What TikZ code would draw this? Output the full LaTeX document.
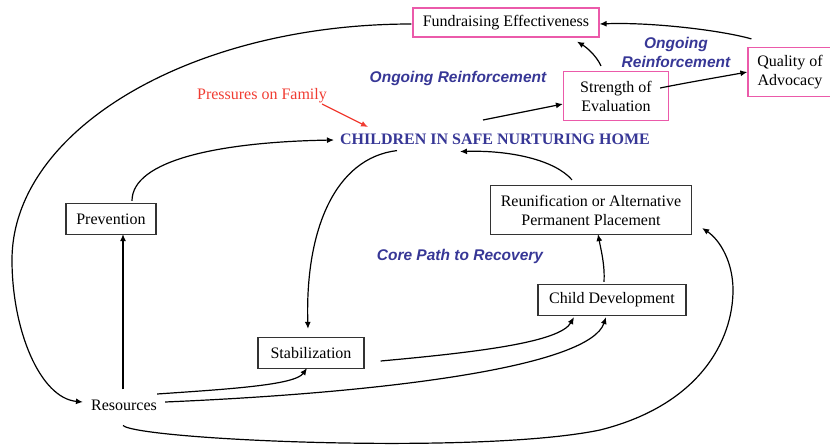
\documentclass[tikz,border=0pt]{standalone}
\usepackage{fontspec}
\setmainfont{Liberation Serif}
\newfontfamily\labelfont{Liberation Sans}
\usetikzlibrary{arrows.meta,calc}
\definecolor{hblue}{RGB}{55,55,150}
\definecolor{pinkb}{RGB}{235,90,170}
\definecolor{pred}{RGB}{240,60,50}
\tikzset{
  arr/.style={draw=black,line width=1.2pt,-{Latex[length=7pt,width=6pt]}},
  txt/.style={font=\fontsize{16}{19}\selectfont},
  box/.style={txt,draw=black!80,line width=1.2pt,inner sep=0pt,align=center},
  pbox/.style={txt,draw=pinkb,line width=1.2pt,inner sep=0pt,align=center},
  blab/.style={text=hblue,font=\labelfont\bfseries\itshape\fontsize{15.5}{19}\selectfont,align=center,inner sep=0pt},
}
\begin{document}
\begin{tikzpicture}[x=1pt,y=-1pt]
\useasboundingbox (0,0) rectangle (830,445);
% nodes
\node[pbox,minimum width=186pt,minimum height=29pt] (fund) at (506,22.5) {Fundraising Effectiveness};
\node[pbox,minimum width=105pt,minimum height=49pt] (str) at (616,96) {Strength of\\Evaluation};
\node[pbox,minimum width=84pt,minimum height=49pt] (qual) at (790,72) {Quality of\\Advocacy};
\node[blab] (og2) at (676,52) {Ongoing\\Reinforcement};
\node[blab] (og1) at (458,78) {Ongoing Reinforcement};
\node[txt,text=pred,inner sep=0pt] (press) at (262,96) {Pressures on Family};
\node[text=hblue,inner sep=0pt,font=\bfseries\fontsize{16}{19}\selectfont] (home) at (495,139) {CHILDREN IN SAFE NURTURING HOME};
\node[box,minimum width=90pt,minimum height=31pt] (prev) at (111,219) {Prevention};
\node[box,minimum width=201pt,minimum height=49pt] (reun) at (591,210) {Reunification or Alternative\\Permanent Placement};
\node[blab] (core) at (460,256) {Core Path to Recovery};
\node[box,minimum width=148pt,minimum height=31pt] (cdev) at (612,300) {Child Development};
\node[box,minimum width=106pt,minimum height=31pt] (stab) at (311,353) {Stabilization};
\node[txt,inner sep=0pt] (res) at (124,405) {Resources};
\coordinate (evin) at (483,120);
% connectors
\draw[arr,draw=pred] ($(press.east)+(-5,8)$) -- ($(home.west)+(28,-12)$);
\draw[arr] ($(prev.north)+(21,-2)$) .. controls (132,160) and (220,142) .. ($(home.west)+(-6,1)$);
\draw[arr] ($(home.south)+(-98,6)$) .. controls (335,158) and (305,230) .. ($(stab.north)+(-3,-8)$);
\draw[arr] ($(reun.north)+(-19,-5)$) .. controls (555,160) and (510,150) .. ($(home.south)+(-35,7)$);
\draw[arr] ($(cdev.north)+(-8,-2)$) .. controls (605,265) and (601,250) .. ($(reun.south)+(7,-1)$);
\draw[arr] ($(stab.east)+(16,8)$) .. controls (480,352) and (560,342) .. ($(cdev.south)+(-38,1)$);
\draw[arr] ($(res.east)+(0,-11)$) .. controls (230,389) and (295,385) .. ($(stab.south)+(-4,-1)$);
\draw[arr] ($(res.east)+(8,-3)$) .. controls (400,392) and (590,365) .. ($(cdev.south)+(-6,1)$);
\draw[arr] ($(res.north)+(-1,-10)$) -- ($(prev.south)+(12,-1)$);
\draw[arr] ($(res.south)+(-1,15)$) .. controls (140,440) and (480,455) .. (600,430)
   .. controls (700,405) and (733,340) .. (733,290)
   .. controls (733,262) and (720,240) .. ($(reun.east)+(10,18)$);
\draw[arr] ($(fund.west)+(-1,1.5)$) .. controls (191,24) and (12,130) .. (12,260)
   .. controls (12,330) and (40,398) .. ($(res.west)+(-8,-3)$);
\draw[arr] ($(qual.north west)+(4,-8)$) .. controls (720,30) and (650,22) .. ($(fund.east)+(0,1.5)$);
\draw[arr] ($(str.north)+(-15,-5)$) .. controls (596,55) and (586,47) .. ($(fund.south)+(71,4)$);
\draw[arr] ($(str.east)+(-9,-8)$) .. controls (690,82) and (720,77) .. ($(qual.west)+(0,0)$);
\draw[arr] (evin) -- ($(str.west)+(0,8)$);
\end{tikzpicture}
\end{document}
